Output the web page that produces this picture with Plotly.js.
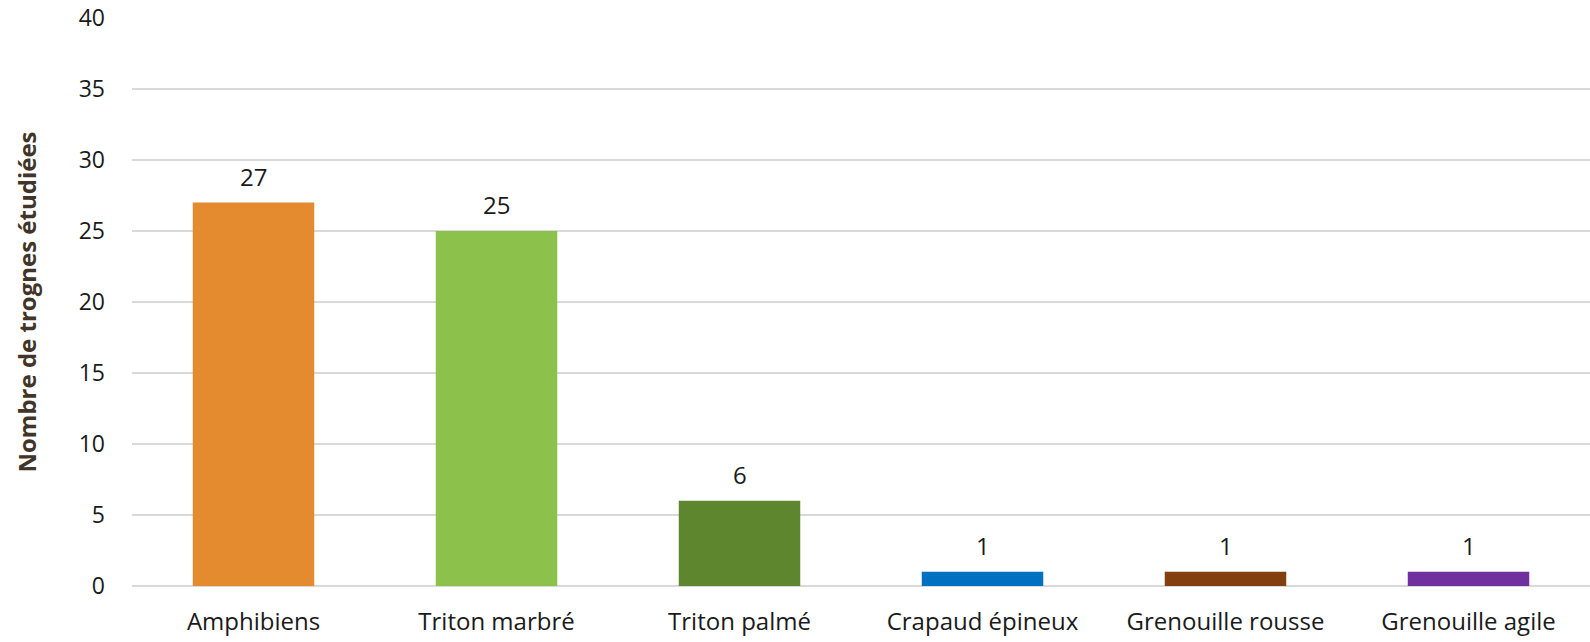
<!DOCTYPE html>
<html>
<head>
<meta charset="utf-8">
<script src="https://cdn.plot.ly/plotly-3.0.1.min.js"></script>
<style>html,body{margin:0;padding:0;background:#fff;}#chart{width:1590px;height:642px;}</style>
</head>
<body>
<div id="chart"></div>
<script>
const categories = ["Amphibiens", "Triton marbré", "Triton palmé", "Crapaud épineux", "Grenouille rousse", "Grenouille agile"];
const values = [27, 25, 6, 1, 1, 1];
const barColors = ["#E48B2F", "#8CC14B", "#5D862F", "#0070C0", "#843F0E", "#7030A0"];
const yTickVals = [0, 5, 10, 15, 20, 25, 30, 35, 40];
const yTitle = "Nombre de trognes étudiées";

const font = "'Open Sans', 'Noto Sans', sans-serif";
const fs = 24;

const trace = {
  type: "bar",
  x: categories,
  y: values,
  marker: {color: barColors},
  width: 0.5,
  hoverinfo: "skip"
};

const annotations = categories.map((c, i) => ({
  x: c, y: values[i], xref: "x", yref: "y",
  text: String(values[i]), showarrow: false,
  yanchor: "bottom", yshift: 8,
  font: {family: font, size: fs, color: "#1a1a1a"}
}));

const layout = {
  width: 1590, height: 642,
  margin: {l: 132, r: 0, t: 18, b: 56, pad: 0},
  paper_bgcolor: "#fff", plot_bgcolor: "#fff",
  showlegend: false,
  bargap: 0.5,
  font: {family: font, size: fs, color: "#1a1a1a"},
  xaxis: {
    type: "category",
    showgrid: false, showline: false, zeroline: false,
    ticks: "", ticklabelstandoff: 19,
    ticklabeloverflow: "allow",
    tickfont: {family: font, size: fs, color: "#1a1a1a"}
  },
  yaxis: {
    range: [0, 40], tickvals: yTickVals, ticktext: yTickVals.map(String),
    showgrid: true, gridcolor: "#D9D9D9", gridwidth: 1.5,
    zeroline: true, zerolinecolor: "#D9D9D9", zerolinewidth: 1.5,
    showline: false, ticks: "", ticklabelstandoff: 26,
    ticklabeloverflow: "allow",
    tickfont: {family: font, size: 23, color: "#1a1a1a"},
    title: {text: yTitle, standoff: 35, font: {family: font, size: 24, color: "#403528", weight: "bold"}}
  },
  annotations: annotations
};

Plotly.newPlot("chart", [trace], layout, {displayModeBar: false, staticPlot: true});
</script>
</body>
</html>
